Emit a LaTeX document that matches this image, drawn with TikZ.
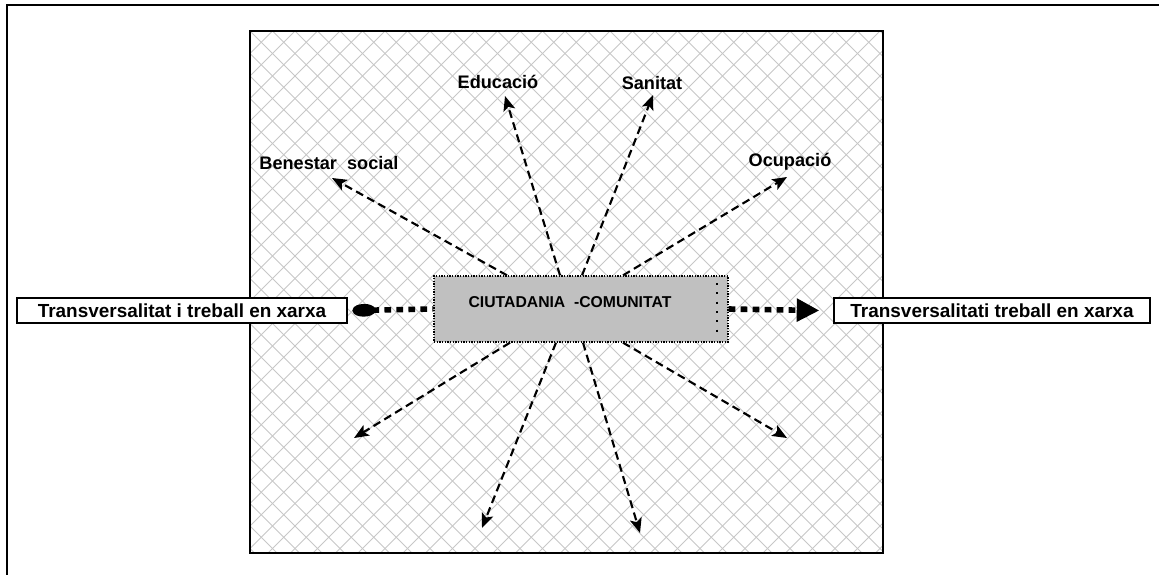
\documentclass[tikz,border=0pt]{standalone}
\usepackage{fontspec}
\setmainfont{Liberation Sans}
\usetikzlibrary{arrows.meta}

\tikzset{
  hatch/.style={color=black!22, line width=0.75pt},
  sidebox/.style={draw, line width=0.9pt, fill=white, minimum height=18.75pt, inner sep=0pt,
    font=\fontsize{14.2}{16}\selectfont\bfseries},
  centrebox/.style={draw, densely dotted, line width=1pt,
    fill={rgb, 255:red, 192; green, 192; blue, 192 }, minimum width=220.5pt, minimum height=49.5pt},
  centretext/.style={inner sep=0.75pt, font=\fontsize{11.8}{13}\selectfont\bfseries},
  themetext/.style={inner sep=0.75pt, font=\fontsize{13.6}{15}\selectfont\bfseries},
  ray/.style={line width=1.6pt, dash pattern=on 6pt off 3.5pt, -{Stealth[length=11pt,width=9pt,inset=2.5pt]}},
  thickdots/.style={line width=4.2pt, dash pattern=on 5pt off 4pt}
}

\begin{document}
\begin{tikzpicture}[x=0.75pt,y=0.75pt,yscale=-1,xscale=1]
        \useasboundingbox (0,0) rectangle (1159,575);

        % outer frame
        \draw [line width=1.1pt] (1159,5) -- (7,5) -- (7,575) ;

        % hatched field
        \begin{scope}
          \clip (250,31) rectangle (883,553);
          \foreach \c in {-540,-517.5,...,1190} {
            \draw [hatch] (250+\c,31) -- ++(540,540) ;
            \draw [hatch] (250+\c,31) -- ++(-540,540) ;
          }
        \end{scope}
        \draw [line width=1.1pt] (250,31) rectangle (883,553) ;

        % central box
        \node [centrebox] (centre) at (581,309) {};
        \node [centretext] (centrelabel) at (570,302) {CIUTADANIA\ \ -COMUNITAT};
        \draw [line width=1.5pt, dash pattern=on 1.5pt off 5.5pt] (717,283) -- (717,335) ;

        % side boxes
        \node [sidebox, minimum width=247.5pt] (leftbox) at (182,310.5) {Transversalitat i treball en xarxa};
        \node [sidebox, minimum width=237pt] (rightbox) at (992,310.5) {Transversalitati treball en xarxa};

        % theme labels
        \node [themetext] (benestar) at (329,163) {Benestar\ \ social};
        \node [themetext] (educacio) at (498,82) {Educació};
        \node [themetext] (sanitat) at (652,83) {Sanitat};
        \node [themetext] (ocupacio) at (790,162) {Ocupació};

        % free ends of the rays
        \coordinate (tipben) at (332,178);
        \coordinate (tipedu) at (505,96);
        \coordinate (tipsan) at (653,95);
        \coordinate (tipocu) at (787,177);
        \coordinate (tipsw) at (354,438);
        \coordinate (tipssw) at (482,528);
        \coordinate (tipsse) at (640,533);
        \coordinate (tipse) at (787,438);

        % rays
        \draw [ray] ([xshift=-55.5pt]centre.north) -- (tipben) ;
        \draw [ray] ([xshift=-15.75pt]centre.north) -- (tipedu) ;
        \draw [ray] ([xshift=0.75pt]centre.north) -- (tipsan) ;
        \draw [ray] ([xshift=31.5pt]centre.north) -- (tipocu) ;
        \draw [ray] ([xshift=-53.25pt]centre.south) -- (tipsw) ;
        \draw [ray] ([xshift=-18.75pt]centre.south) -- (tipssw) ;
        \draw [ray] ([xshift=1.5pt]centre.south) -- (tipsse) ;
        \draw [ray] ([xshift=31.5pt]centre.south) -- (tipse) ;

        % network links
        \draw [thickdots, {Ellipse[length=17pt,width=9.5pt]}-] ([xshift=3.75pt]leftbox.east) -- (centre.west) ;
        \draw [thickdots, -{Triangle[length=17pt,width=16.5pt]}] (centre.east) -- ([xshift=-10.5pt]rightbox.west) ;

\end{tikzpicture}
\end{document}
